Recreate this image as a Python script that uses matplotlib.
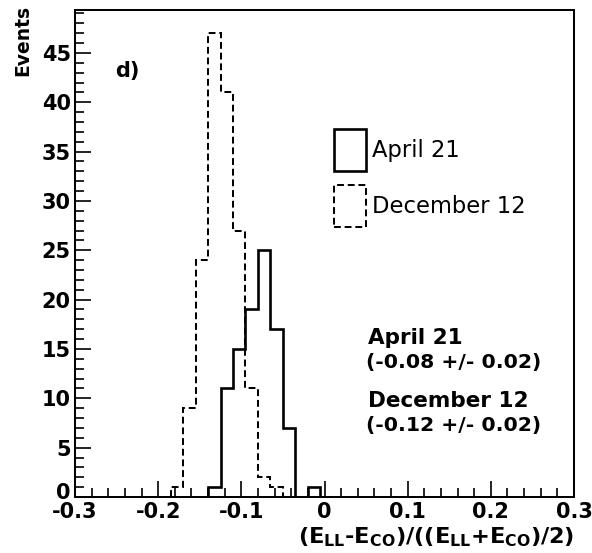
import numpy as np
import matplotlib
matplotlib.use("Agg")
import matplotlib.pyplot as plt
import matplotlib.patches as mpatches
import matplotlib.transforms as mtransforms
from matplotlib.ticker import MultipleLocator, FuncFormatter

plt.rcParams['font.family'] = ['DejaVu Sans']
plt.rcParams['mathtext.fontset'] = 'dejavusans'

# Histogram binning (width 0.015) and per-bin event counts
bin_start = -0.185
bin_width = 0.015
april_counts = [0, 0, 0, 1, 11, 15, 19, 25, 17, 7, 0, 1]
december_counts = [1, 9, 24, 47, 41, 27, 11, 2, 1, 0, 0, 0]
series_labels = ["April 21", "December 12"]
fit_results = ["(-0.08 +/- 0.02)", "(-0.12 +/- 0.02)"]

edges = bin_start + bin_width * np.arange(len(april_counts) + 1)
dash = (0, (3.4, 1.9))

fig = plt.figure(figsize=(5.92, 5.53), dpi=100)
ax = fig.add_axes([0.1267, 0.1013, 0.8429, 0.8806])

ax.stairs(april_counts, edges, color='black', lw=1.9, baseline=0)
ax.stairs(december_counts, edges, color='black', lw=1.45,
          linestyle=dash, baseline=0)

ax.set_xlim(-0.3, 0.3)
ax.set_ylim(0, max(december_counts) * 1.05)

ax.xaxis.set_major_locator(MultipleLocator(0.1))
ax.xaxis.set_minor_locator(MultipleLocator(0.02))
ax.set_yticks(np.arange(0, 50, 5))
ax.yaxis.set_minor_locator(MultipleLocator(1))
ax.xaxis.set_major_formatter(FuncFormatter(
    lambda v, p: "0" if abs(v) < 1e-9 else f"{v:.1f}"))
ax.tick_params(which='both', direction='in', top=False, right=False,
               labelsize=15, width=1.2)
ax.tick_params(which='major', length=11.5)
ax.tick_params(which='minor', length=6.8)
ax.tick_params(axis='x', pad=3.4)
ax.tick_params(axis='y', pad=3.0)
for s in ax.spines.values():
    s.set_linewidth(1.45)

fig.canvas.draw()
for lbl in ax.get_xticklabels() + ax.get_yticklabels():
    lbl.set_fontweight('bold')
# lift the "0" label on the y axis off the x-axis labels
zero_lbl = ax.yaxis.get_major_ticks()[0].label1
zero_lbl.set_transform(zero_lbl.get_transform() +
                       mtransforms.ScaledTranslation(0, 4.5 / 72, fig.dpi_scale_trans))

fig.text(0.039, 0.991, "Events", rotation=90, ha='center', va='top',
         fontsize=13.5, fontweight='bold')
ax.set_xlabel(r"(E$_{\bf LL}$-E$_{\bf CO}$)/((E$_{\bf LL}$+E$_{\bf CO}$)/2)",
              fontsize=16.2, fontweight='bold', loc='right', labelpad=3)

ax.text(0.080, 0.874, "d)", transform=ax.transAxes, fontsize=15,
        fontweight='bold', ha='left', va='center')

handles = [
    mpatches.Patch(facecolor='none', edgecolor='black', lw=1.9),
    mpatches.Patch(facecolor='none', edgecolor='black', lw=1.45, linestyle=dash),
]
ax.legend(handles, series_labels, loc='upper left',
          bbox_to_anchor=(0.519, 0.7556), frameon=False, fontsize=16.3,
          handlelength=1.413, handleheight=2.477, handletextpad=0.25,
          labelspacing=0.62, borderpad=0, borderaxespad=0)

ax.text(0.587, 0.3265, series_labels[0], transform=ax.transAxes, fontsize=15.5,
        fontweight='bold', ha='left', va='center')
ax.text(0.583, 0.2762, fit_results[0], transform=ax.transAxes, fontsize=14.7,
        fontweight='bold', ha='left', va='center')
ax.text(0.587, 0.1971, series_labels[1], transform=ax.transAxes, fontsize=15.5,
        fontweight='bold', ha='left', va='center')
ax.text(0.583, 0.1468, fit_results[1], transform=ax.transAxes, fontsize=14.7,
        fontweight='bold', ha='left', va='center')

fig.savefig("out.png", dpi=100)
